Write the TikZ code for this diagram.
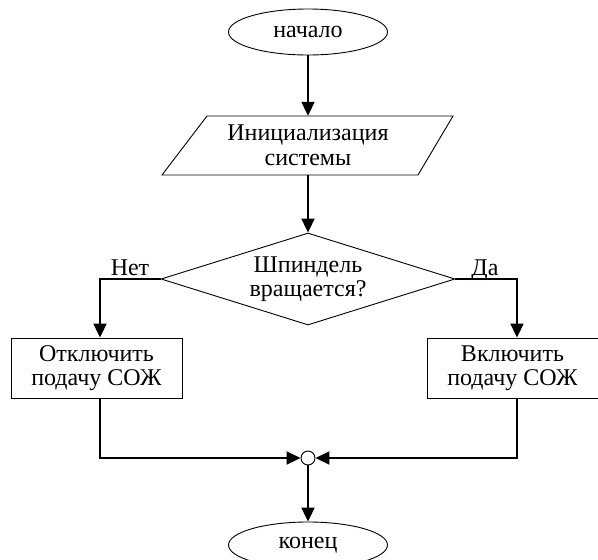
\documentclass[tikz,border=0pt]{standalone}
\usepackage{fontspec}
\setmainfont{Liberation Serif}
\usetikzlibrary{shapes.geometric,arrows.meta}
\begin{document}
\begin{tikzpicture}[x=1pt,y=-1pt,
  every node/.style={font=\fontsize{24}{24.5}\selectfont, align=center},
  shp/.style={draw, line width=0.9pt, inner sep=0pt},
  term/.style={shp, ellipse, minimum width=159pt, minimum height=46pt},
  io/.style={inner sep=0pt, minimum width=246pt, minimum height=59pt},
  dec/.style={shp, diamond, shape aspect=3.2, minimum width=294pt, minimum height=92pt},
  proc/.style={shp, rectangle, minimum width=171pt, minimum height=60pt},
  junc/.style={draw, line width=0.9pt, circle, minimum size=14pt, inner sep=0pt, fill=white},
  flow/.style={line width=2pt, -{Triangle[length=14pt,width=13pt]}},
  lbl/.style={inner sep=0pt}
]
\useasboundingbox (0,0) rectangle (598,560);
\fill[white] (0,0) rectangle (598,560);
\node[term] (start) at (308,32) {начало};
\node[io] (init) at (308,145.5) {Инициализация\\системы};
\draw[line width=0.9pt, shift={(init.center)}] (-101,-29.5) -- (145,-29.5)
  -- (110,29.5) -- (-146,29.5) -- cycle;
\node[dec] (cond) at (308,279) {Шпиндель\\вращается?};
\node[proc] (off) at (96.5,368) {Отключить\\подачу СОЖ};
\node[proc] (on) at (512.5,368) {Включить\\подачу СОЖ};
\node[junc] (j) at (308,458) {};
\node[term] (end) at (308,545) {конец};
\coordinate (nL) at (100,279);
\coordinate (nR) at (517,279);
\coordinate (bL) at (100,458);
\coordinate (bR) at (517,458);
\node[lbl, anchor=base] (nolbl) at (130,275) {Нет};
\node[lbl, anchor=base] (yeslbl) at (485,275) {Да};
\draw[flow] (start) -- (init.north);
\draw[flow] (init.south) -- (cond);
\draw[flow] (cond.west) -- (nL) -- (nL |- off.north);
\draw[flow] (cond.east) -- (nR) -- (nR |- on.north);
\draw[flow] (nL |- off.south) -- (bL) -- (j.west);
\draw[flow] (nR |- on.south) -- (bR) -- (j.east);
\draw[flow] (j) -- (end);
\end{tikzpicture}
\end{document}
